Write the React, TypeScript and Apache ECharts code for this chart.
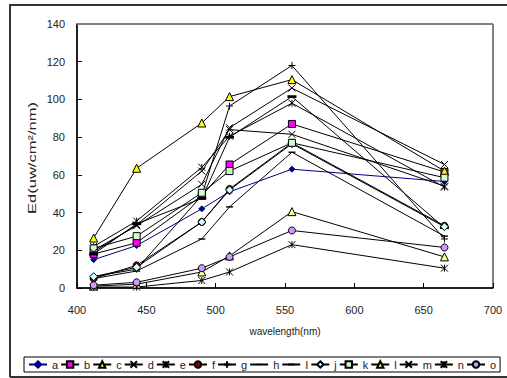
import React, { useEffect, useRef } from 'react';
import * as echarts from 'echarts';

const wavelengths = [412, 443, 490, 510, 555, 665];
const seriesNames = ['a', 'b', 'c', 'd', 'e', 'f', 'g', 'h', 'I', 'j', 'k', 'l', 'm', 'n', 'o'];
const xTicks = [400, 450, 500, 550, 600, 650, 700];
const yTicks = [0, 20, 40, 60, 80, 100, 120, 140];

const a = [15, 22.5, 42, 51, 63, 56.5];
const b = [18, 24, 49, 65.5, 87, 61.5];
const c = [26.5, 63.5, 87.5, 101.5, 110.5, 62];
const d = [20, 33, 55, 85, 106, 65.5];
const e = [22, 35.5, 64, 80.5, 98, 53.5];
const f = [5, 12, 35, 52.5, 77, 33];
const g = [6, 10, 49, 96.5, 118, 26];
const h = [5, 9, 26, 43, 72, 27.5];
const i = [18, 34, 47.5, 80, 101.5, 32];
const j = [6, 11, 35, 52, 76.5, 32.5];
const k = [21, 27.5, 50.5, 62, 77, 58.5];
const l = [1, 2, 8.5, 17, 40.5, 16.5];
const m = [19, 33.5, 62, 84, 81.5, 54];
const n = [0.5, 0.5, 4, 8.5, 23, 10.5];
const o = [1.5, 3, 10.5, 16.5, 30.5, 21.5];

const values = [a, b, c, d, e, f, g, h, i, j, k, l, m, n, o];

const X_PATH = 'path://M0 0L10 10M10 0L0 10';
const STAR_PATH = 'path://M0 0L10 10M10 0L0 10M5 0L5 10';
const PLUS_PATH = 'path://M5 0L5 10M0 5L10 5';
const DASH_PATH = 'path://M0 0M10 10M0 4H10V6H0Z';
const LDASH_PATH = 'path://M0 0M10 10M0 3.5H10V6.5H0Z';

const styles: any[] = [
  { symbol: 'diamond', size: 6, fill: '#000080', stroke: '#000080', line: '#000080', bw: 1 },
  { symbol: 'rect', size: 7, fill: '#FF00FF', stroke: '#000', line: '#000', bw: 1 },
  { symbol: 'triangle', size: 8, fill: '#FFFF00', stroke: '#000', line: '#000', bw: 1 },
  { symbol: X_PATH, size: 7, fill: '#000', stroke: '#000', line: '#000', bw: 1 },
  { symbol: STAR_PATH, size: 7, fill: '#000', stroke: '#000', line: '#000', bw: 1 },
  { symbol: 'circle', size: 7, fill: '#800000', stroke: '#000', line: '#000', bw: 1 },
  { symbol: PLUS_PATH, size: 7, fill: '#000', stroke: '#000', line: '#000', bw: 1 },
  { symbol: DASH_PATH, size: 7, fill: '#000', stroke: '#000', line: '#000', bw: 0 },
  { symbol: LDASH_PATH, size: 9, fill: '#000', stroke: '#000', line: '#000', bw: 0 },
  { symbol: 'diamond', size: 8, fill: '#CCFFFF', stroke: '#000', line: '#000', bw: 1 },
  { symbol: 'rect', size: 7, fill: '#CCFFCC', stroke: '#000', line: '#000', bw: 1 },
  { symbol: 'triangle', size: 8, fill: '#FFFF99', stroke: '#000', line: '#000', bw: 1 },
  { symbol: X_PATH, size: 7, fill: '#000', stroke: '#000', line: '#000', bw: 1 },
  { symbol: STAR_PATH, size: 7, fill: '#000', stroke: '#000', line: '#000', bw: 1 },
  { symbol: 'circle', size: 7, fill: '#CC99FF', stroke: '#000', line: '#000', bw: 1 },
];

const FONT = '"Liberation Sans", Arial, sans-serif';

export default function App() {
  const ref = useRef<HTMLDivElement>(null);
  useEffect(() => {
    if (!ref.current) return;
    const chart = echarts.init(ref.current, null, { renderer: 'svg' });
    const series = values.map((vals, idx) => {
      const s = styles[idx];
      return {
        name: seriesNames[idx],
        type: 'line',
        data: vals.map((v, t) => [wavelengths[t], v]),
        symbol: s.symbol,
        symbolSize: s.size,
        showAllSymbol: true,
        lineStyle: { color: s.line, width: 1 },
        itemStyle: { color: s.fill, borderColor: s.stroke, borderWidth: s.bw },
        emphasis: { disabled: true },
      };
    });
    chart.setOption({
      animation: false,
      textStyle: { fontFamily: FONT },
      grid: { left: 77, right: 14, top: 24, bottom: 90, show: true, borderColor: '#000', borderWidth: 1 },
      xAxis: {
        type: 'value',
        min: xTicks[0],
        max: xTicks[xTicks.length - 1],
        interval: 50,
        name: 'wavelength(nm)',
        nameLocation: 'middle',
        nameGap: 38,
        nameTextStyle: { fontSize: 10, color: '#222', fontFamily: FONT },
        axisLine: { lineStyle: { color: '#000', width: 1.5 } },
        axisTick: { inside: true, length: 5, lineStyle: { color: '#000' } },
        axisLabel: { fontSize: 11, color: '#222', margin: 16, fontFamily: FONT },
        splitLine: { show: false },
      },
      yAxis: {
        type: 'value',
        min: yTicks[0],
        max: yTicks[yTicks.length - 1],
        interval: 20,
        axisLine: { show: true, lineStyle: { color: '#000', width: 1.5 } },
        axisTick: { show: true, inside: true, length: 5, lineStyle: { color: '#000' } },
        axisLabel: { fontSize: 11, color: '#222', margin: 12, fontFamily: FONT },
        splitLine: { show: false },
      },
      legend: {
        left: 24,
        top: 357,
        orient: 'horizontal',
        borderColor: '#000',
        borderWidth: 1,
        padding: [2, 4, 2, 4],
        itemWidth: 18,
        itemHeight: 8,
        itemGap: 2,
        textStyle: { fontSize: 11, color: '#222', fontFamily: FONT },
        data: seriesNames,
      },
      graphic: [
        { type: 'line', shape: { x1: 77, y1: 24, x2: 493, y2: 24 }, style: { stroke: '#808080', lineWidth: 2 }, z: 100 },
        { type: 'line', shape: { x1: 10, y1: 4, x2: 10, y2: 377 }, style: { stroke: '#333', lineWidth: 2 } },
        { type: 'line', shape: { x1: 10, y1: 5, x2: 507, y2: 5 }, style: { stroke: '#333', lineWidth: 2 } },
        { type: 'line', shape: { x1: 10, y1: 377, x2: 507, y2: 377 }, style: { stroke: '#333', lineWidth: 2 } },
        {
          type: 'text',
          x: 32,
          y: 158,
          rotation: Math.PI / 2,
          scaleX: 1.5,
          style: {
            text: 'Ed(uw/cm²/nm)',
            fontSize: 11,
            fontFamily: FONT,
            fill: '#222',
            align: 'center',
            verticalAlign: 'middle',
          },
        },
      ],
      series,
    });
    return () => chart.dispose();
  }, []);
  return (
    <div style={{ position: 'absolute', left: 0, top: 0, width: 507, height: 378, background: '#fff' }}>
      <div ref={ref} style={{ width: 507, height: 378 }} />
    </div>
  );
}
